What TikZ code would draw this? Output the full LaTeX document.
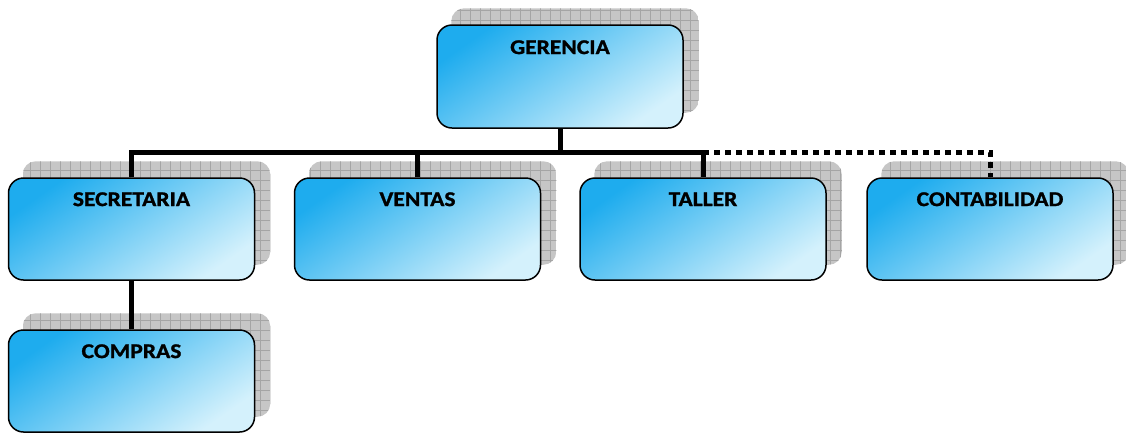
\documentclass[tikz,border=0pt]{standalone}
\usepackage{fontspec}
\setmainfont{Carlito}
\newfontfamily\lblfont{Carlito}[BoldFeatures={FakeStretch=1.12, FakeBold=1.2}]
\pgfdeclarelayer{lines}
\pgfdeclarelayer{shadows}
\pgfsetlayers{shadows,lines,main}
\definecolor{cdark}{RGB}{30,172,238}
\definecolor{cmid}{RGB}{150,212,244}
\definecolor{clight}{RGB}{212,241,252}
\definecolor{shfill}{RGB}{198,198,198}
\definecolor{shgrid}{RGB}{165,165,165}
\tikzset{
  unitbox/.style={draw=black, line width=1.5pt, rounded corners=15pt,
    minimum width=246pt, minimum height=102pt, inner sep=0pt,
    top color=cdark, middle color=cmid, bottom color=clight, shading angle=35},
  boxlabel/.style={font=\lblfont\fontsize{21}{25}\selectfont\bfseries, inner sep=0pt, anchor=center},
  conn/.style={line width=5pt, black},
  dotconn/.style={line width=5pt, black, dash pattern=on 6pt off 5pt},
}
\newcommand\myshadow[1]{%
  \begin{pgfonlayer}{shadows}
  \begin{scope}
    \path[clip, rounded corners=13pt] ([shift={(15pt,16pt)}]#1.south west) rectangle ([shift={(15pt,16pt)}]#1.north east);
    \fill[shfill] ([shift={(15pt,16pt)}]#1.south west) rectangle ([shift={(15pt,16pt)}]#1.north east);
    \draw[shgrid, line width=0.8pt, step=10pt] ([shift={(15pt,16pt)}]#1.south west) grid ([shift={(25pt,26pt)}]#1.north east);
  \end{scope}
  \end{pgfonlayer}}
\begin{document}
\begin{tikzpicture}[x=1pt,y=1pt]
\useasboundingbox (0,0) rectangle (1126,-432);
\node[unitbox, minimum height=103pt] (ger) at (560,-76.5) {};
\node[unitbox] (sec) at (131.5,-229) {};
\node[unitbox] (ven) at (417.5,-229) {};
\node[unitbox] (tal) at (703,-229) {};
\node[unitbox] (con) at (990,-229) {};
\node[unitbox] (com) at (131.5,-381) {};
\node[boxlabel] (gerT) at ([yshift=-23pt]ger.north) {GERENCIA};
\node[boxlabel] (secT) at ([yshift=-22pt]sec.north) {SECRETARIA};
\node[boxlabel] (venT) at ([yshift=-22pt]ven.north) {VENTAS};
\node[boxlabel] (talT) at ([yshift=-22pt]tal.north) {TALLER};
\node[boxlabel] (conT) at ([yshift=-22pt]con.north) {CONTABILIDAD};
\node[boxlabel] (comT) at ([yshift=-22pt]com.north) {COMPRAS};
\foreach \n in {ger,sec,ven,tal,con,com}{\myshadow{\n}}
\coordinate (bus) at (560,-152);
\coordinate (busL) at (sec.north |- bus);
\coordinate (busR) at (tal.north |- bus);
\coordinate (busC) at (con.north |- bus);
\begin{pgfonlayer}{lines}
\draw[dotconn] (bus) -- (busC) -- (con.north);
\draw[conn] (ger.south) -- (bus);
\draw[conn] (sec.north) -- (busL) -- (busR) -- (tal.north);
\draw[conn] (ven.north) -- (ven.north |- bus);
\draw[conn] (sec.south) -- (com.north);
\end{pgfonlayer}
\end{tikzpicture}
\end{document}
